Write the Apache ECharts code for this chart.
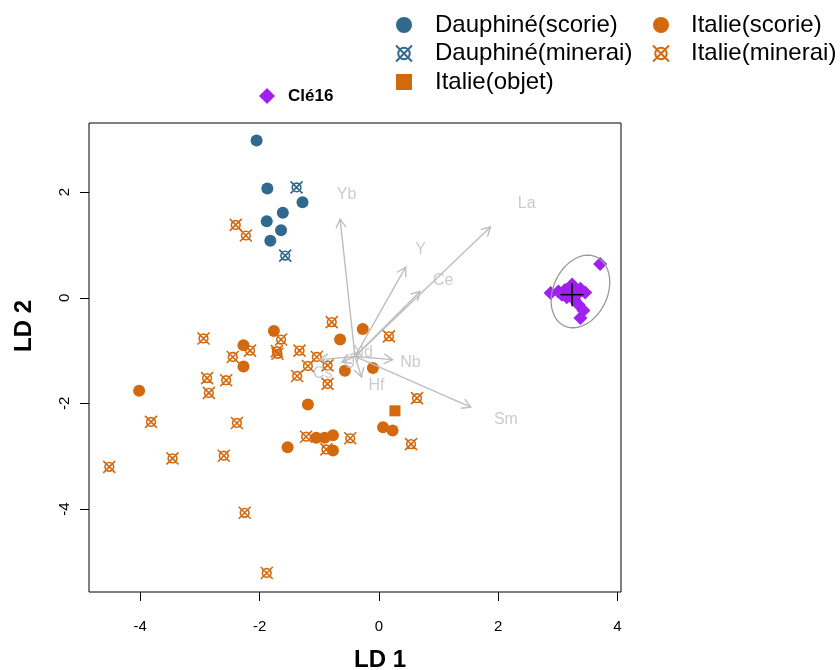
<!DOCTYPE html>
<html>
<head>
<meta charset="utf-8">
<script src="https://cdn.jsdelivr.net/npm/echarts@6/dist/echarts.min.js"></script>
<style>
    html, body { margin: 0; padding: 0; background: #fff; }
    #chart { width: 840px; height: 670px; }
</style>
</head>
<body>
<div id="chart"></div>
<script>
(function () {

    var FONT = '"Liberation Sans", Arial, sans-serif';
    var BLUE = '#31688e',
        ORANGE = '#d2690e',
        PURPLE = '#a020f0',
        ARROW_GREY = '#bebebe';

    // axes
    var xRange = [-4.86, 4.06];
    var yRange = [-5.57, 3.31];
    var xTicks = [-4, -2, 0, 2, 4];
    var yTicks = [-4, -2, 0, 2];

    // LD1 / LD2 scores
    var dauphineScorie = [
        [-2.05, 2.98], [-1.87, 2.07], [-1.28, 1.81], [-1.61, 1.61],
        [-1.88, 1.45], [-1.64, 1.28], [-1.82, 1.08]
    ];
    var dauphineMinerai = [
        [-1.38, 2.09], [-1.57, 0.80]
    ];
    var italieScorie = [
        [-1.76, -0.63], [-2.27, -0.90], [-2.27, -1.30], [-0.65, -0.79],
        [-0.27, -0.59], [-0.57, -1.38], [-4.02, -1.76], [-1.19, -2.02],
        [-1.05, -2.65], [-0.91, -2.65], [-0.77, -2.60], [-1.53, -2.83],
        [-0.77, -2.89], [-0.10, -1.33], [0.07, -2.45], [0.23, -2.51]
    ];
    var italieMinerai = [
        [-2.94, -0.77], [-1.64, -0.79], [-2.16, -1.00], [-1.71, -1.01],
        [-1.70, -1.06], [-1.33, -1.00], [-2.45, -1.12], [-1.04, -1.12],
        [-1.19, -1.29], [-0.86, -1.28], [-1.37, -1.48], [-0.86, -1.63],
        [-0.79, -0.46], [-2.88, -1.52], [-2.56, -1.56], [-2.85, -1.80],
        [-3.82, -2.35], [-2.38, -2.37], [-1.22, -2.63], [-0.48, -2.66],
        [-0.88, -2.87], [-3.46, -3.04], [-2.60, -2.99], [-4.52, -3.20],
        [-2.25, -4.07], [-1.88, -5.21], [0.17, -0.73], [0.64, -1.90],
        [0.54, -2.77], [-2.40, 1.38], [-2.23, 1.18]
    ];
    var italieObjet = [
        [0.27, -2.14]
    ];
    var cle16 = [
        [3.71, 0.64], [2.88, 0.09], [3.01, 0.12], [3.12, 0.15], [3.24, 0.25],
        [3.38, 0.17], [3.46, 0.10], [3.15, 0.01], [3.28, -0.04], [3.35, -0.13],
        [3.43, -0.24], [3.38, -0.38], [3.07, 0.06], [3.32, 0.06], [3.20, 0.12]
    ];
    var cle16Centre = [3.24, 0.06];

    // ellipse : centre, demi-axe 1, demi-axe 2 (unites LD)
    var ellipseCentre = [3.38, 0.12];
    var ellipseAxisU = [0.269, 0.652];
    var ellipseAxisV = [0.411, -0.216];

    // variables (fleches)
    var arrowOrigin = [-0.40, -1.11];
    var arrowNames = ['Yb', 'Y', 'Ce', 'La', 'Nb', 'Sm', 'Hf', 'Cs', 'Nd', 'U'];
    var arrowTips = [
        [-0.65, 1.49], [0.45, 0.58], [0.69, 0.12], [1.87, 1.34], [0.23, -1.17],
        [1.54, -2.07], [-0.29, -1.50], [-0.99, -1.17], [-0.33, -1.02], [-0.62, -1.22]
    ];
    var arrowLabelPos = [
        [-0.54, 1.95], [0.70, 0.91], [1.08, 0.32], [2.48, 1.79], [0.53, -1.23],
        [2.13, -2.30], [-0.04, -1.66], [-0.94, -1.44], [-0.27, -1.03], [-0.49, -1.24]
    ];

    var MINERAI_SYMBOL = 'path://M-1,-1L1,1M-1,1L1,-1M0.72,0A0.72,0.72,0,1,1,-0.72,0A0.72,0.72,0,1,1,0.72,0Z';

    function renderArrow(params, api) {
        var p0 = api.coord([api.value(0), api.value(1)]);
        var p1 = api.coord([api.value(2), api.value(3)]);
        var ang = Math.atan2(p1[1] - p0[1], p1[0] - p0[0]);
        var h = 10, w = Math.PI / 6;
        var a1 = [p1[0] - h * Math.cos(ang - w), p1[1] - h * Math.sin(ang - w)];
        var a2 = [p1[0] - h * Math.cos(ang + w), p1[1] - h * Math.sin(ang + w)];
        var style = { stroke: ARROW_GREY, lineWidth: 1.4, fill: null };
        return {
            type: 'group',
            children: [
                { type: 'line', shape: { x1: p0[0], y1: p0[1], x2: p1[0], y2: p1[1] }, style: style },
                { type: 'polyline', shape: { points: [a1, p1, a2] }, style: style }
            ]
        };
    }

    function renderEllipse(params, api) {
        var cx = api.value(0), cy = api.value(1),
            ux = api.value(2), uy = api.value(3),
            vx = api.value(4), vy = api.value(5);
        var pts = [];
        for (var i = 0; i <= 90; i++) {
            var t = i / 90 * Math.PI * 2;
            pts.push(api.coord([cx + ux * Math.cos(t) + vx * Math.sin(t), cy + uy * Math.cos(t) + vy * Math.sin(t)]));
        }
        return { type: 'polyline', shape: { points: pts }, style: { stroke: '#999999', lineWidth: 1.3, fill: null } };
    }

    function renderCross(params, api) {
        var p = api.coord([api.value(0), api.value(1)]);
        var r = 11.5;
        var style = { stroke: '#000', lineWidth: 1.5 };
        return {
            type: 'group',
            children: [
                { type: 'line', shape: { x1: p[0] - r, y1: p[1], x2: p[0] + r, y2: p[1] }, style: style },
                { type: 'line', shape: { x1: p[0], y1: p[1] - r, x2: p[0], y2: p[1] + r }, style: style }
            ]
        };
    }

    var arrowData = arrowTips.map(function (tip) {
        return [arrowOrigin[0], arrowOrigin[1], tip[0], tip[1]];
    });
    var arrowLabelData = arrowNames.map(function (n, i) {
        return { name: n, value: arrowLabelPos[i] };
    });

    var legendText = { fontFamily: FONT, fontSize: 24, lineHeight: 23, color: '#000' };

    var option = {
        animation: false,
        grid: {
            left: 89, right: 219, top: 123, bottom: 78,
            show: true, borderColor: '#000', borderWidth: 1, backgroundColor: 'transparent'
        },
        legend: [{
            data: ['Dauphiné(scorie)', 'Dauphiné(minerai)', 'Italie(objet)'],
            orient: 'vertical', left: 395, top: 13, padding: 0,
            itemWidth: 16, itemHeight: 16, itemGap: 4.5,
            selectedMode: false,
            textStyle: Object.assign({ padding: [0, 0, 0, 18] }, legendText)
        }, {
            data: ['Italie(scorie)', 'Italie(minerai)'],
            orient: 'vertical', left: 652, top: 13, padding: 0,
            itemWidth: 16, itemHeight: 16, itemGap: 4.5,
            selectedMode: false,
            textStyle: Object.assign({ padding: [0, 0, 0, 17] }, legendText)
        }, {
            data: ['Clé16'],
            orient: 'vertical', left: 259, top: 86, padding: 0,
            itemWidth: 16, itemHeight: 16,
            selectedMode: false,
            textStyle: { fontFamily: FONT, fontSize: 17, fontWeight: 'bold', lineHeight: 20, color: '#000', padding: [0, 0, 0, 8] }
        }],
        xAxis: {
            type: 'value', min: xRange[0], max: xRange[1],
            axisLine: { show: false, onZero: false },
            splitLine: { show: false },
            axisTick: { show: true, length: 9, customValues: xTicks, lineStyle: { color: '#000', width: 1 } },
            axisLabel: { customValues: xTicks, margin: 27, fontFamily: FONT, fontSize: 15, color: '#000' }
        },
        yAxis: {
            type: 'value', min: yRange[0], max: yRange[1],
            axisLine: { show: false, onZero: false },
            splitLine: { show: false },
            axisTick: { show: true, length: 9, customValues: yTicks, lineStyle: { color: '#000', width: 1 } },
            axisLabel: { customValues: yTicks, rotate: 90, margin: 17, fontFamily: FONT, fontSize: 15, color: '#000' }
        },
        graphic: [{
            type: 'text', x: 380, y: 660,
            style: { text: 'LD 1', font: 'bold 24px ' + FONT, fill: '#000', align: 'center', verticalAlign: 'middle' }
        }, {
            type: 'text', x: 24, y: 326, rotation: Math.PI / 2,
            style: { text: 'LD 2', font: 'bold 24px ' + FONT, fill: '#000', align: 'center', verticalAlign: 'middle' }
        }],
        series: [{
            name: 'Dauphiné(scorie)', type: 'scatter', symbol: 'circle', symbolSize: 12,
            itemStyle: { color: BLUE, opacity: 1 }, data: dauphineScorie, z: 3
        }, {
            name: 'Dauphiné(minerai)', type: 'scatter', symbol: MINERAI_SYMBOL, symbolSize: 12,
            itemStyle: { color: 'rgba(0,0,0,0)', borderColor: BLUE, borderWidth: 1.6, opacity: 1 },
            data: dauphineMinerai, z: 3
        }, {
            name: 'Italie(objet)', type: 'scatter', symbol: 'rect', symbolSize: 11,
            itemStyle: { color: ORANGE, opacity: 1 }, data: italieObjet, z: 3
        }, {
            name: 'Italie(scorie)', type: 'scatter', symbol: 'circle', symbolSize: 12,
            itemStyle: { color: ORANGE, opacity: 1 }, data: italieScorie, z: 3
        }, {
            name: 'Italie(minerai)', type: 'scatter', symbol: MINERAI_SYMBOL, symbolSize: 12,
            itemStyle: { color: 'rgba(0,0,0,0)', borderColor: ORANGE, borderWidth: 1.6, opacity: 1 },
            data: italieMinerai, z: 3
        }, {
            name: 'Clé16', type: 'scatter', symbol: 'diamond', symbolSize: 14,
            itemStyle: { color: PURPLE, opacity: 1 }, data: cle16, z: 3
        }, {
            type: 'custom', renderItem: renderEllipse, silent: true, z: 4,
            encode: { x: [0, 2, 4], y: [1, 3, 5] },
            data: [ellipseCentre.concat(ellipseAxisU, ellipseAxisV)]
        }, {
            type: 'custom', renderItem: renderCross, silent: true, z: 5,
            data: [cle16Centre]
        }, {
            type: 'custom', renderItem: renderArrow, silent: true, z: 6,
            encode: { x: [0, 2], y: [1, 3] },
            data: arrowData
        }, {
            type: 'scatter', symbolSize: 0, silent: true, z: 7,
            label: { show: true, position: 'inside', formatter: '{b}', fontFamily: FONT, fontSize: 16, color: ARROW_GREY },
            data: arrowLabelData
        }]
    };

    var chart = echarts.init(document.getElementById('chart'));
    chart.setOption(option);

})();
</script>
</body>
</html>
